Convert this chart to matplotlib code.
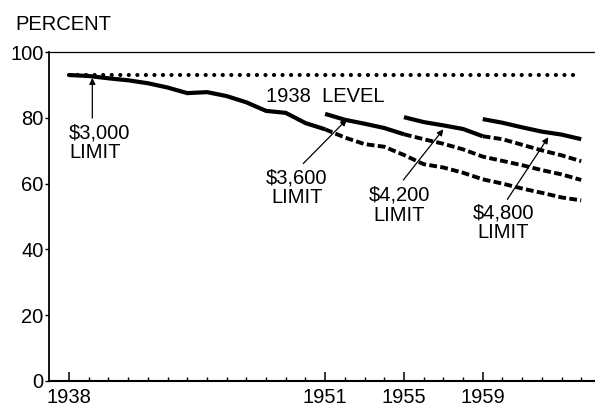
import matplotlib
matplotlib.use("Agg")
import matplotlib.pyplot as plt
import numpy as np

plt.rcParams['font.family'] = ['Liberation Sans', 'DejaVu Sans']

# ---- data ----
years_3000 = list(range(1938, 1965))
pct_3000 = [93.0, 92.7, 92.0, 91.4, 90.5, 89.2, 87.5, 87.8, 86.6, 84.7, 82.1, 81.5, 78.4,
            76.5, 74.0, 72.0, 71.2, 68.7, 65.9, 64.9, 63.3, 61.3, 60.0, 58.5, 57.2, 55.8, 54.9]
years_3600 = list(range(1951, 1965))
pct_3600 = [81.2, 79.4, 78.2, 76.9, 75.0, 73.5, 72.1, 70.4, 68.2, 66.9, 65.6, 64.1, 62.8, 61.1]
years_4200 = list(range(1955, 1965))
pct_4200 = [80.2, 78.7, 77.7, 76.6, 74.4, 73.5, 71.8, 70.1, 68.6, 66.8]
years_4800 = list(range(1959, 1965))
pct_4800 = [79.6, 78.5, 77.1, 75.8, 74.9, 73.5]
level_years = [1938, 1964]
level_1938 = [93.0, 93.0]

# year each limit was replaced (solid until then, dashed afterwards)
end_3000, end_3600, end_4200 = 1951, 1955, 1959

xtick_years = [1938, 1951, 1955, 1959]
ytick_vals = [0, 20, 40, 60, 80, 100]

fig = plt.figure(figsize=(5.95, 4.07), dpi=100)
ax = fig.add_axes([49/595, 26/407, 546/595, 329/407])

solid_kw = dict(color='black', lw=3.0, solid_capstyle='butt')
dash_kw = dict(color='black', lw=2.8, linestyle=(0, (2.0, 0.85)), dash_capstyle='butt')


def draw(years, vals, end=None):
    y = np.array(years)
    v = np.array(vals)
    if end is None:
        ax.plot(y, v, **solid_kw)
        return
    s = y <= end
    d = y >= end
    ax.plot(y[s], v[s], **solid_kw)
    ax.plot(y[d], v[d], **dash_kw)


ax.plot(level_years, level_1938, color='black', lw=3.0, linestyle=(0, (0.01, 2.04)),
        dash_capstyle='round')
draw(years_3000, pct_3000, end_3000)
draw(years_3600, pct_3600, end_3600)
draw(years_4200, pct_4200, end_4200)
draw(years_4800, pct_4800)

ax.set_xlim(1936.98, 1964.7)
ax.set_ylim(0, 100)

ax.spines['right'].set_visible(False)
ax.spines['left'].set_linewidth(1.3)
ax.spines['bottom'].set_linewidth(1.5)
ax.spines['top'].set_linewidth(0.9)

ax.set_xticks(xtick_years)
ax.set_xticklabels([str(v) for v in xtick_years])
ax.set_xticks(range(1938, 1965), minor=True)
ax.tick_params(axis='x', which='major', direction='in', length=6.5, width=1.1,
               labelsize=14.5, pad=5)
ax.tick_params(axis='x', which='minor', direction='in', length=3.2, width=1.0)
ax.set_yticks(ytick_vals)
ax.set_yticklabels([str(v) for v in ytick_vals])
ax.tick_params(axis='y', direction='out', length=3, width=1.0, labelsize=14.5, pad=1)

fs = 14.5
fig.text(15/595, 1 - 30/407, 'PERCENT', fontsize=fs, ha='left', va='baseline')

ax.text(1948.0, 84.9, '1938  LEVEL', fontsize=fs, ha='left', va='baseline')

arrow = dict(arrowstyle='-|>', color='black', lw=0.9, mutation_scale=9,
             shrinkA=0, shrinkB=0)

ax.annotate('', xy=(1939.18, 92.1), xytext=(1939.18, 79.9), arrowprops=arrow)
ax.text(1938.0, 78.4, '$3,000\nLIMIT', fontsize=fs, ha='left', va='top', linespacing=1.05)

ax.annotate('', xy=(1952.1, 79.5), xytext=(1949.89, 66.1), arrowprops=arrow)
ax.text(1949.57, 64.7, '$3,600\nLIMIT', fontsize=fs, ha='center', va='top',
        multialignment='center', linespacing=1.05)

ax.annotate('', xy=(1957.0, 76.5), xytext=(1954.97, 61.1), arrowprops=arrow)
ax.text(1954.75, 59.3, '$4,200\nLIMIT', fontsize=fs, ha='center', va='top',
        multialignment='center', linespacing=1.05)

ax.annotate('', xy=(1962.33, 74.1), xytext=(1960.25, 55.2), arrowprops=arrow)
ax.text(1960.03, 54.0, '$4,800\nLIMIT', fontsize=fs, ha='center', va='top',
        multialignment='center', linespacing=1.05)

fig.savefig('out.png', dpi=100)
